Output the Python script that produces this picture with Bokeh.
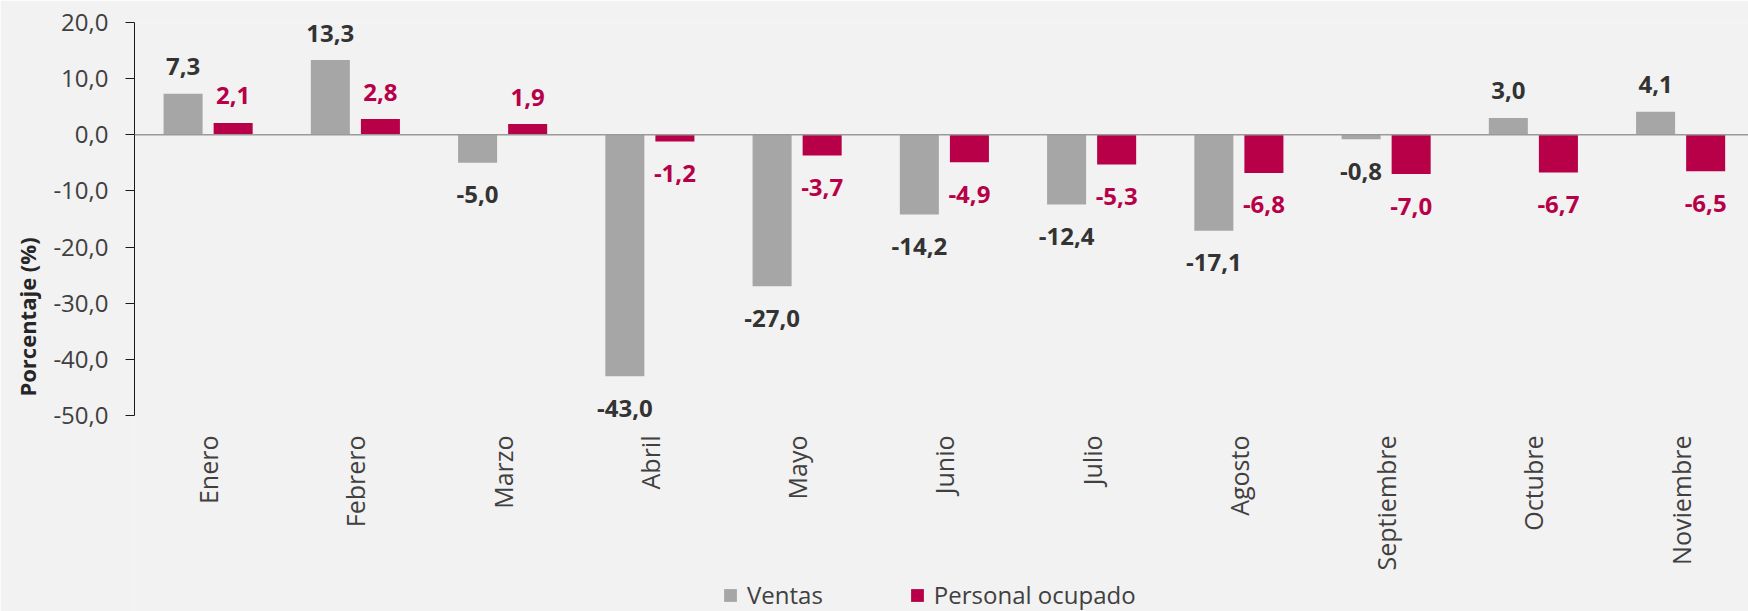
import numpy as np
from bokeh.plotting import figure
from bokeh.models import (ColumnDataSource, Range1d, FixedTicker, CustomJSTickFormatter,
                          Span, Legend, LegendItem, LabelSet)
from bokeh.core.properties import value
from bokeh.embed import file_html
from bokeh.resources import INLINE

# ---- data ----
months = ["Enero", "Febrero", "Marzo", "Abril", "Mayo", "Junio", "Julio",
          "Agosto", "Septiembre", "Octubre", "Noviembre"]
ventas = [7.3, 13.3, -5.0, -43.0, -27.0, -14.2, -12.4, -17.1, -0.8, 3.0, 4.1]
personal = [2.1, 2.8, 1.9, -1.2, -3.7, -4.9, -5.3, -6.8, -7.0, -6.7, -6.5]
y_ticks = [-50, -40, -30, -20, -10, 0, 10, 20]
series_names = ["Ventas", "Personal ocupado"]

# ---- style ----
BG = "#f2f2f2"
GREY = "#a6a6a6"
RED = "#b70047"
FONT = "Open Sans"
OFF = 0.17
BAR_W = 0.265
W, H = 1748, 611
TOP = 22
LEFT = 134
PX_PER_UNIT = 393 / 70.0

centers = np.arange(len(months)) + 0.5


def fmt(v):
    return f"{v:.1f}".replace(".", ",")


def make_src(vals, shift):
    return ColumnDataSource(dict(
        x=centers + shift,
        top=vals,
        label=[fmt(v) for v in vals],
        yoff=[27 if v >= 0 else -32 for v in vals],
    ))


src_v = make_src(ventas, -OFF)
src_p = make_src(personal, OFF)
src_m = ColumnDataSource(dict(x=centers, y=[y_ticks[0]] * len(months), label=months))

# frame fills the area below the value axis so the month names and legend fit inside it
y_lo = y_ticks[-1] - (H - TOP) / PX_PER_UNIT
p = figure(width=W, height=H, output_backend="svg", toolbar_location=None,
           x_axis_location=None,
           x_range=Range1d(0, (W - LEFT) / 147.25), y_range=Range1d(y_lo, y_ticks[-1]),
           min_border_left=LEFT, min_border_right=0, min_border_top=TOP,
           min_border_bottom=0)
p.background_fill_color = BG
p.border_fill_color = BG
p.outline_line_color = None
p.xgrid.visible = False
p.ygrid.visible = False

rv = p.vbar(x="x", top="top", bottom=0, width=BAR_W, source=src_v,
            fill_color=GREY, line_color=None)
rp = p.vbar(x="x", top="top", bottom=0, width=BAR_W, source=src_p,
            fill_color=RED, line_color=None)

p.add_layout(Span(location=0, dimension="width", line_color="#9a9a9a", line_width=1.5))

for src, col in ((src_v, "#333333"), (src_p, RED)):
    p.add_layout(LabelSet(x="x", y="top", text="label", source=src, y_offset="yoff",
                          text_align="center", text_baseline="middle",
                          text_font=value(FONT), text_font_size=value("24px"),
                          text_font_style=value("bold"), text_color=value(col)))

# category labels, rotated, hanging below the bottom of the value axis
p.add_layout(LabelSet(x="x", y="y", text="label", source=src_m, y_offset=-20,
                      angle=np.pi / 2, text_align="right", text_baseline="middle",
                      text_font=value(FONT), text_font_size=value("25px"),
                      text_color=value("#404040")))

# y axis
ya = p.yaxis[0]
ya.ticker = FixedTicker(ticks=y_ticks)
ya.bounds = (y_ticks[0], y_ticks[-1])
ya.formatter = CustomJSTickFormatter(code="return tick.toFixed(1).replace('.', ',');")
ya.axis_line_color = "#1a1a1a"
ya.major_tick_line_color = "#1a1a1a"
ya.major_tick_out = 9
ya.major_tick_in = 0
ya.minor_tick_line_color = None
ya.major_label_standoff = 17
ya.major_label_text_font = FONT
ya.major_label_text_font_size = "24px"
ya.major_label_text_color = "#404040"
ya.axis_label = "Porcentaje (%)"
ya.axis_label_text_font = FONT
ya.axis_label_text_font_size = "22px"
ya.axis_label_text_font_style = "bold"
ya.axis_label_text_color = "#262626"
ya.axis_label_standoff = 8

legend = Legend(items=[LegendItem(label=series_names[0], renderers=[rv]),
                       LegendItem(label=series_names[1], renderers=[rp])],
                orientation="horizontal", location=(722 - LEFT, 0),
                glyph_width=16, glyph_height=16, label_standoff=9, spacing=86,
                label_text_font=FONT, label_text_font_size="24px",
                label_text_color="#404040", label_height=16,
                background_fill_alpha=0, border_line_color=None,
                padding=0, margin=0)
p.add_layout(legend, "center")

open("out.html", "w").write(file_html(p, INLINE))
